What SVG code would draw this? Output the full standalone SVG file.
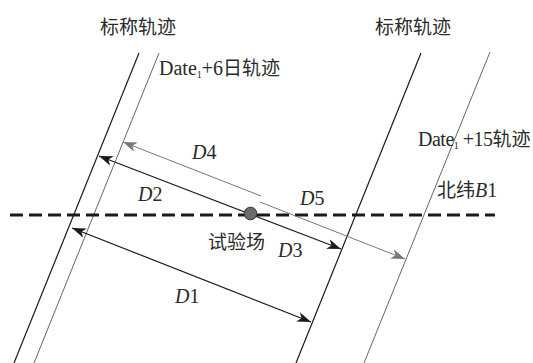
<svg xmlns="http://www.w3.org/2000/svg" width="533" height="363" viewBox="0 0 533 363">
<style>
.trk{stroke:#1a1a1a;stroke-width:1.2;fill:none}
.trk2{stroke:#666;stroke-width:1;fill:none}
.ar{stroke:#1a1a1a;stroke-width:1.2;fill:none}
.ar2{stroke:#777;stroke-width:1;fill:none}
.cn{font-family:"Noto Sans CJK SC",sans-serif;font-size:19px;fill:#2a2a2a}
.lt{font-family:"Liberation Serif",serif;font-size:20px;fill:#2a2a2a}
.it{font-style:italic}
</style>
<defs>
<marker id="ab" viewBox="0 0 14 10" refX="14" refY="5" markerWidth="14" markerHeight="10" markerUnits="userSpaceOnUse" orient="auto-start-reverse">
<path d="M14,5 L0,0 L4,5 L0,10 Z" fill="#1a1a1a"/>
</marker>
<marker id="ag" viewBox="0 0 14 10" refX="14" refY="5" markerWidth="14" markerHeight="10" markerUnits="userSpaceOnUse" orient="auto-start-reverse">
<path d="M14,5 L0,0 L4,5 L0,10 Z" fill="#777"/>
</marker>
</defs>
<g id="tracks">
<line class="trk" x1="139" y1="53" x2="14" y2="363"/>
<line class="trk2" x1="159" y1="53" x2="34" y2="363"/>
<line class="trk" x1="421" y1="53" x2="296" y2="363"/>
<line class="trk2" x1="490" y1="52" x2="364" y2="363"/>
</g>
<g id="latitude">
<line x1="10" y1="215" x2="495" y2="215" stroke="#1a1a1a" stroke-width="3.2" stroke-dasharray="13,6"/>
</g>
<g id="connectors">
<line class="ar" x1="72" y1="228" x2="311" y2="322" marker-start="url(#ab)" marker-end="url(#ab)"/>
<line class="ar" x1="99" y1="156" x2="341" y2="249" marker-start="url(#ab)" marker-end="url(#ab)"/>
<line class="ar2" x1="261" y1="196" x2="123" y2="142" marker-end="url(#ag)"/>
<line class="ar2" x1="260" y1="202" x2="405" y2="259" marker-end="url(#ag)"/>
</g>
<g id="site">
<circle cx="250.5" cy="213.5" r="6.3" fill="#6b6b6b" stroke="#333" stroke-width="1"/>
<text class="cn" x="208" y="249" font-size="20">试验场</text>
</g>
<g id="labels">
<text class="cn" x="100" y="34" font-size="20">标称轨迹</text>
<text class="cn" x="375" y="34" font-size="20">标称轨迹</text>
<text class="lt" x="159" y="75" font-size="19">Date<tspan font-size="10" dy="3">1</tspan><tspan dy="-3">+6</tspan><tspan class="cn" font-size="19">日轨迹</tspan></text>
<text class="lt" x="418" y="146" font-size="18" letter-spacing="-0.5">Date<tspan font-size="10" dy="3">1</tspan><tspan dy="-3"> +15</tspan><tspan class="cn" font-size="19" letter-spacing="0">轨迹</tspan></text>
<text class="cn" x="437" y="197" font-size="19">北纬<tspan class="lt it">B</tspan><tspan class="lt">1</tspan></text>
<text class="lt" x="192" y="159"><tspan class="it">D</tspan>4</text>
<text class="lt" x="138" y="201"><tspan class="it">D</tspan>2</text>
<text class="lt" x="300" y="205"><tspan class="it">D</tspan>5</text>
<text class="lt" x="278" y="257"><tspan class="it">D</tspan>3</text>
<text class="lt" x="175" y="303"><tspan class="it">D</tspan>1</text>
</g>
</svg>
